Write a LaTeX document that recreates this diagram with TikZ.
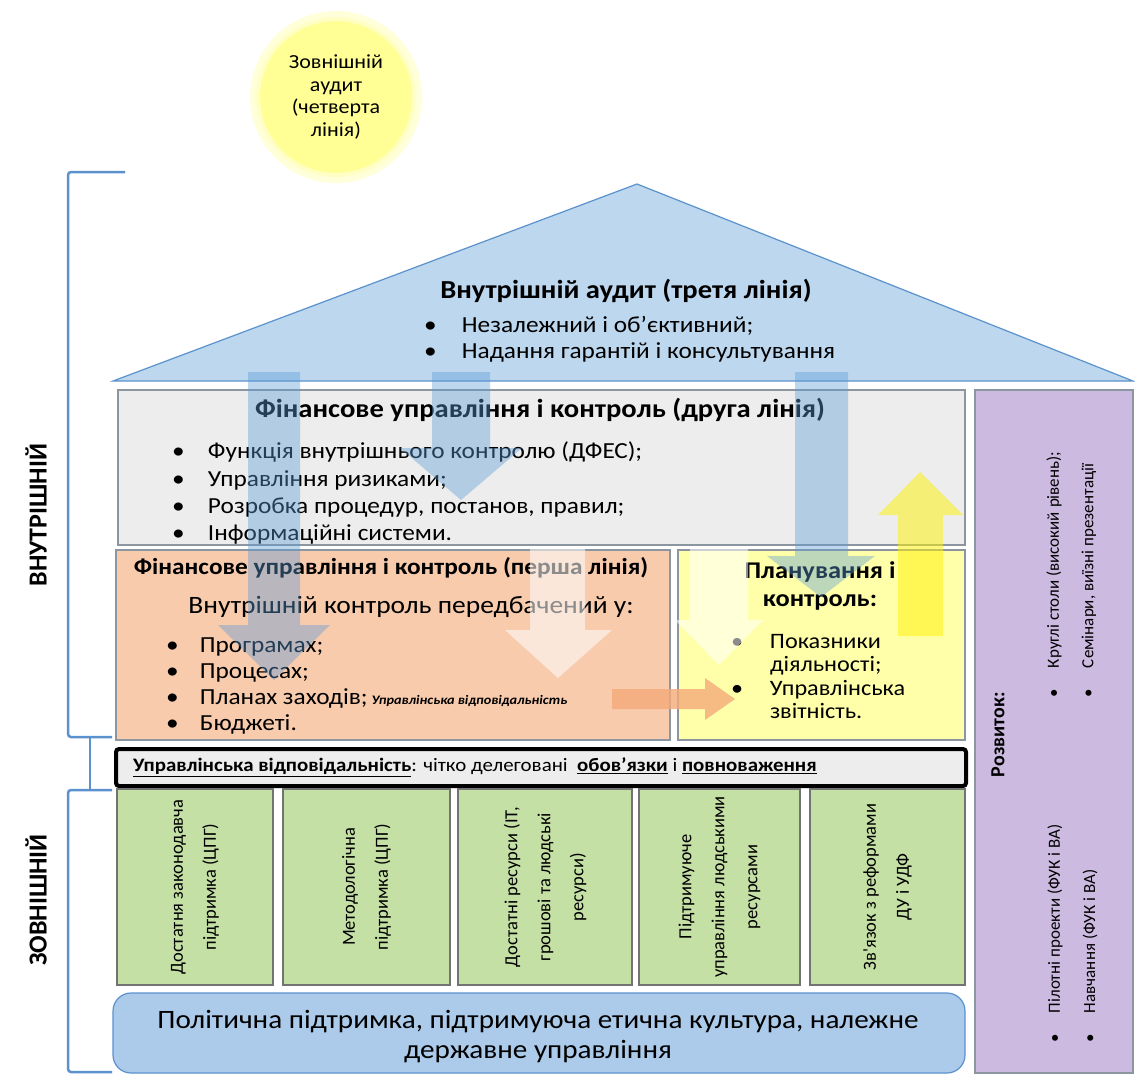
\documentclass[tikz,border=0pt]{standalone}
\usepackage{fontspec}
\setmainfont{Carlito}[FakeStretch=1.1]
\newfontfamily\vfont{Carlito}
\usetikzlibrary{positioning}
\definecolor{roofblue}{RGB}{189,215,238}
\definecolor{lineblue}{RGB}{91,146,205}
\definecolor{arrowblue}{RGB}{91,155,213}
\definecolor{greybox}{RGB}{237,237,237}
\definecolor{salmon}{RGB}{248,203,173}
\definecolor{paleyellow}{RGB}{255,255,170}
\definecolor{lilac}{RGB}{204,186,224}
\definecolor{pillargreen}{RGB}{197,224,165}
\definecolor{baseblue}{RGB}{172,202,233}
\definecolor{sunyellow}{RGB}{255,255,150}
\definecolor{boxline}{RGB}{140,150,160}
\definecolor{arroworange}{RGB}{244,170,120}
\newcommand\bul[1]{\makebox[#1][l]{\textbullet}}
\newcommand\fsz[2]{\fontsize{#1}{#2}\selectfont}

\begin{document}
\begin{tikzpicture}[x=1pt,y=-1pt,
  every node/.style={inner sep=0pt, outer sep=0pt},
  box/.style={draw=boxline, line width=1.5pt, anchor=north west},
  pillar/.style={draw=black!55, fill=pillargreen, line width=1.2pt, rotate=90,
    minimum width=196pt, minimum height=#1, align=center, font=\vfont\fsz{18.5}{33}},
  devtext/.style={rotate=90, anchor=west, font=\vfont\fsz{17}{17}},
  side/.style={rotate=90, font=\vfont\bfseries\fsz{26}{26}},
  bracket/.style={draw=lineblue, line width=2.5pt, rounded corners=3pt},
  blue arrow/.style={fill=arrowblue, fill opacity=0.4},
  white arrow/.style={fill=white, fill opacity=0.55},
  yellow arrow/.style={fill=yellow, fill opacity=0.5},
  orange arrow/.style={fill=arroworange, fill opacity=0.8}]
  \useasboundingbox (0,0) rectangle (1135,1077);
  \fill[white] (0,0) rectangle (1135,1077);

  \node[circle, fill=sunyellow!35!white, minimum size=172pt] (glow) at (336,97) {};
  \node[circle, fill=sunyellow, draw=sunyellow!55!white, line width=4pt,
    minimum size=156pt, align=center, font=\fsz{20}{22.5}] (extaudit) at (336,97)
    {Зовнішній\\аудит\\(четверта\\лінія)};

  \draw[bracket] (125,172) -- (68,172) -- (68,737) -- (112,737);
  \draw[bracket] (90,737) -- (90,790);
  \draw[bracket] (112,790) -- (68,790) -- (68,1072) -- (112,1072);
  \node[side] (inner) at (36,515) {ВНУТРІШНІЙ};
  \node[side] (outer) at (36,900) {ЗОВНІШНІЙ};

  \draw[fill=roofblue, draw=lineblue, line width=1.2pt] (113,381) -- (637,184) -- (1133,381) -- cycle;
  \node[font=\bfseries\fsz{26}{30}] (ia) at (626,291) {Внутрішній аудит (третя лінія)};
  \node[anchor=north west, align=left, font=\fsz{23}{26}] (iaitems) at (424,316)
    {\bul{38pt}Незалежний і об’єктивний;\\\bul{38pt}Надання гарантій і консультування};

  \node[box, fill=greybox, minimum width=847pt, minimum height=155pt] (second) at (118,390) {};
  \node[font=\bfseries\fsz{26}{30}] (secondtitle) at (540,410) {Фінансове управління і контроль (друга лінія)};
  \node[anchor=north west, align=left, font=\fsz{23}{27.3}] (seconditems) at (172,442)
    {\bul{36pt}Функція внутрішнього контролю (ДФЕС);\\\bul{36pt}Управління ризиками;\\
     \bul{36pt}Розробка процедур, постанов, правил;\\\bul{36pt}Інформаційні системи.};

  \node[box, fill=salmon, minimum width=554pt, minimum height=190pt] (first) at (116,550) {};
  \node[font=\bfseries\fsz{23}{26}] (firsttitle) at (391,568) {Фінансове управління і контроль (перша лінія)};
  \node[font=\fsz{25}{28}] (firstsub) at (411,607) {Внутрішній контроль передбачений у:};
  \node[anchor=north west, align=left, font=\fsz{23}{26}] (firstitems) at (166,638)
    {\bul{34pt}Програмах;\\\bul{34pt}Процесах;\\
     \bul{34pt}Планах заходів;\,{\bfseries\itshape\fsz{13}{13}Управлінська відповідальність}\\
     \bul{34pt}Бюджеті.};

  \node[box, fill=paleyellow, minimum width=287pt, minimum height=190pt] (plan) at (678,550) {};
  \node[align=center, font=\bfseries\fsz{24}{28}] (plantitle) at (820,586) {Планування і\\контроль:};
  \node[anchor=north west, align=left, font=\fsz{22}{23.5}] (planitems) at (731,634)
    {\bul{39pt}Показники\\\hspace*{39pt}діяльності;\\\bul{39pt}Управлінська\\\hspace*{39pt}звітність.};

  \node[box, fill=lilac, minimum width=158pt, minimum height=683pt] (develop) at (975,390) {};
  \node[rotate=90, anchor=west, font=\vfont\bfseries\fsz{20}{20}] (devtitle) at (998,777) {Розвиток:};
  \node[devtext] (dev1) at (1054,697) {\bul{29pt}Круглі столи (високий рівень);};
  \node[devtext] (dev2) at (1089,697) {\bul{29pt}Семінари, виїзні презентації};
  \node[devtext] (dev3) at (1055,1042) {\bul{29pt}Пілотні проекти (ФУК і ВА)};
  \node[devtext] (dev4) at (1090,1042) {\bul{29pt}Навчання (ФУК і ВА)};

  \node[draw=black, line width=4pt, rounded corners=3pt, fill=greybox, anchor=north west,
    minimum width=850pt, minimum height=37pt] (account) at (116,749) {};
  \node[anchor=west, font=\fsz{19}{19}] (accounttext) at (133,767)
    {\underline{\textbf{Управлінська відповідальність}}: чітко делеговані\ \ \underline{\textbf{обов’язки}} і \underline{\textbf{повноваження}}};

  \node[pillar=156pt] (p1) at (195,887) {Достатня законодавча\\підтримка (ЦПГ)};
  \node[pillar=167pt] (p2) at (366.5,887) {Методологічна\\підтримка (ЦПГ)};
  \node[pillar=174pt] (p3) at (545,887) {Достатні ресурси (ІТ,\\грошові та людські\\ресурси)};
  \node[pillar=161pt] (p4) at (719.5,887) {Підтримуюче\\управління людськими\\ресурсами};
  \node[pillar=155pt] (p5) at (887.5,887) {Зв'язок з реформами\\ДУ і УДФ};

  \node[draw=lineblue, line width=1.2pt, fill=baseblue, rounded corners=18pt, anchor=north west,
    minimum width=852pt, minimum height=80pt] (base) at (113,993) {};
  \node[align=center, font=\fsz{26.5}{30}] (basetext) at (538,1037)
    {Політична підтримка, підтримуюча етична культура, належне\\державне управління};

  \fill[blue arrow] (248,372) -- (300,372) -- (300,625) -- (330,625) -- (274,680) -- (218,625) -- (248,625) -- cycle;
  \fill[blue arrow] (432,372) -- (490,372) -- (490,448) -- (522,448) -- (461,500) -- (400,448) -- (432,448) -- cycle;
  \fill[blue arrow] (795,372) -- (848,372) -- (848,556) -- (875,556) -- (821,597) -- (767,556) -- (795,556) -- cycle;
  \fill[white arrow] (530,548) -- (585,548) -- (585,630) -- (612,630) -- (558,678) -- (505,630) -- (530,630) -- cycle;
  \fill[white arrow] (690,548) -- (748,548) -- (748,620) -- (763,620) -- (719,665) -- (675,620) -- (690,620) -- cycle;
  \fill[yellow arrow] (898,636) -- (943,636) -- (943,515) -- (963,515) -- (920,472) -- (878,515) -- (898,515) -- cycle;
  \fill[orange arrow] (612,689) -- (705,689) -- (705,678) -- (735,699) -- (705,720) -- (705,709) -- (612,709) -- cycle;
\end{tikzpicture}
\end{document}
